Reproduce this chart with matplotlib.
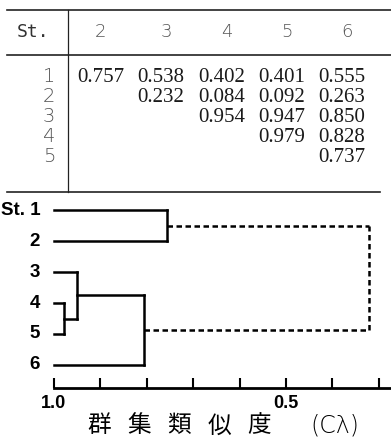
import numpy as np
import matplotlib
matplotlib.use('Agg')
from matplotlib import pyplot as plt
from matplotlib.lines import Line2D

# similarity table (C lambda), row station vs column station
stations = ['1', '2', '3', '4', '5', '6']
col_labels = ['2', '3', '4', '5', '6']
row_labels = ['1', '2', '3', '4', '5']
row1 = [0.757, 0.538, 0.402, 0.401, 0.555]
row2 = [0.232, 0.084, 0.092, 0.263]
row3 = [0.954, 0.947, 0.850]
row4 = [0.979, 0.828]
row5 = [0.737]
rows = [row1, row2, row3, row4, row5]

xticks = [1.0, 0.9, 0.8, 0.7, 0.6, 0.5, 0.4, 0.3]
xticklabels = ['1.0', '', '', '', '', '0.5', '', '']
xlabel_chars = ['群', '集', '類', '似', '度']
xlabel_sym = '(Cλ)'

# full similarity matrix
n = len(stations)
sim = np.ones((n, n))
for i, r in enumerate(rows):
    for k, v in enumerate(r):
        j = n - len(r) + k
        sim[i, j] = v
        sim[j, i] = v

# group-average clustering (UPGMA)
clusters = {i: dict(members=[i], y=i + 1, h=1.0) for i in range(n)}
merges = []
next_id = n
while len(clusters) > 1:
    keys = list(clusters)
    best = None
    for a in range(len(keys)):
        for b in range(a + 1, len(keys)):
            ma = clusters[keys[a]]['members']
            mb = clusters[keys[b]]['members']
            s = np.mean([sim[p, q] for p in ma for q in mb])
            if best is None or s > best[0]:
                best = (s, keys[a], keys[b])
    s, ka, kb = best
    ca, cb = clusters.pop(ka), clusters.pop(kb)
    merges.append((ca, cb, s))
    clusters[next_id] = dict(members=ca['members'] + cb['members'],
                             y=(ca['y'] + cb['y']) / 2, h=s)
    next_id += 1

W, H = 391, 438
fig = plt.figure(figsize=(W / 100, H / 100), dpi=100)

# ---- table (pixel coordinates) ----
tab = fig.add_axes([0, 0, 1, 1])
tab.set_xlim(0, W)
tab.set_ylim(H, 0)
tab.axis('off')
tab.add_line(Line2D([7, 391], [10, 10], color='#222', lw=1.2))
tab.add_line(Line2D([7, 391], [55, 55], color='#222', lw=1.2))
tab.add_line(Line2D([7, 380], [192, 192], color='#222', lw=1.2))
tab.add_line(Line2D([68, 68], [10, 192], color='#222', lw=0.9))

tab.text(33, 32, 'St.', family='DejaVu Sans Mono', fontsize=13, color='#333',
         ha='center', va='center')
col_x = [100, 166, 227, 287, 347]
for x, lab in zip(col_x, col_labels):
    tab.text(x, 32, lab, family='DejaVu Sans', fontsize=13, color='#555',
             ha='center', va='center', fontweight='light')

val_x = [101, 161, 222, 282, 342]
row_y = [77, 97, 117, 137, 157]
for i, r in enumerate(rows):
    tab.text(55, row_y[i], row_labels[i], family='DejaVu Sans', fontsize=14,
             color='#555', ha='right', va='center', fontweight='light')
    for k, v in enumerate(r):
        c = len(col_labels) - len(r) + k
        tab.text(val_x[c], row_y[i], f'{v:.3f}', family='Liberation Serif',
                 fontsize=15, color='#1a1a1a', ha='center', va='center')

# ---- dendrogram ----
ax = fig.add_axes([52 / W, 50 / H, 339 / W, 193 / H])
ax.set_xlim(1.0043, 0.2737)
ax.set_ylim(6.742, 0.516)
for sp in ['left', 'top', 'right']:
    ax.spines[sp].set_visible(False)
ax.spines['bottom'].set_linewidth(2)
ax.spines['bottom'].set_bounds(1.0, 0.2737)
ax.set_yticks([])
ax.set_xticks(xticks)
ax.set_xticklabels(xticklabels, fontsize=13, fontweight='bold',
                   family='Liberation Sans')
ax.tick_params(axis='x', direction='in', length=7, width=1.5, pad=5)

lw = 1.8
for idx, (ca, cb, s) in enumerate(merges):
    root = idx == len(merges) - 1
    style = dict(color='black', lw=lw,
                 ls=(0, (2.2, 1.4)) if root else '-')
    for c in (ca, cb):
        ax.plot([c['h'], s], [c['y'], c['y']], **style)
    ax.plot([s, s], [ca['y'], cb['y']], **style)

lab_tr = ax.get_yaxis_transform()
for i, st in enumerate(stations):
    lab = 'St. ' + st if i == 0 else st
    ax.text(-0.035, i + 1, lab, transform=lab_tr, ha='right', va='center',
            fontsize=13.5, fontweight='bold', family='Liberation Sans')

# axis title, characters spaced out as in the print
for k, ch in enumerate(xlabel_chars):
    tab.text(99 + 40 * k, 426, ch, ha='center', va='center', fontsize=17,
             family='Noto Sans CJK JP')
tab.text(335, 425, xlabel_sym, ha='center', va='center', fontsize=17,
         family='DejaVu Sans', fontweight='light')

fig.savefig('out.png', dpi=100)
